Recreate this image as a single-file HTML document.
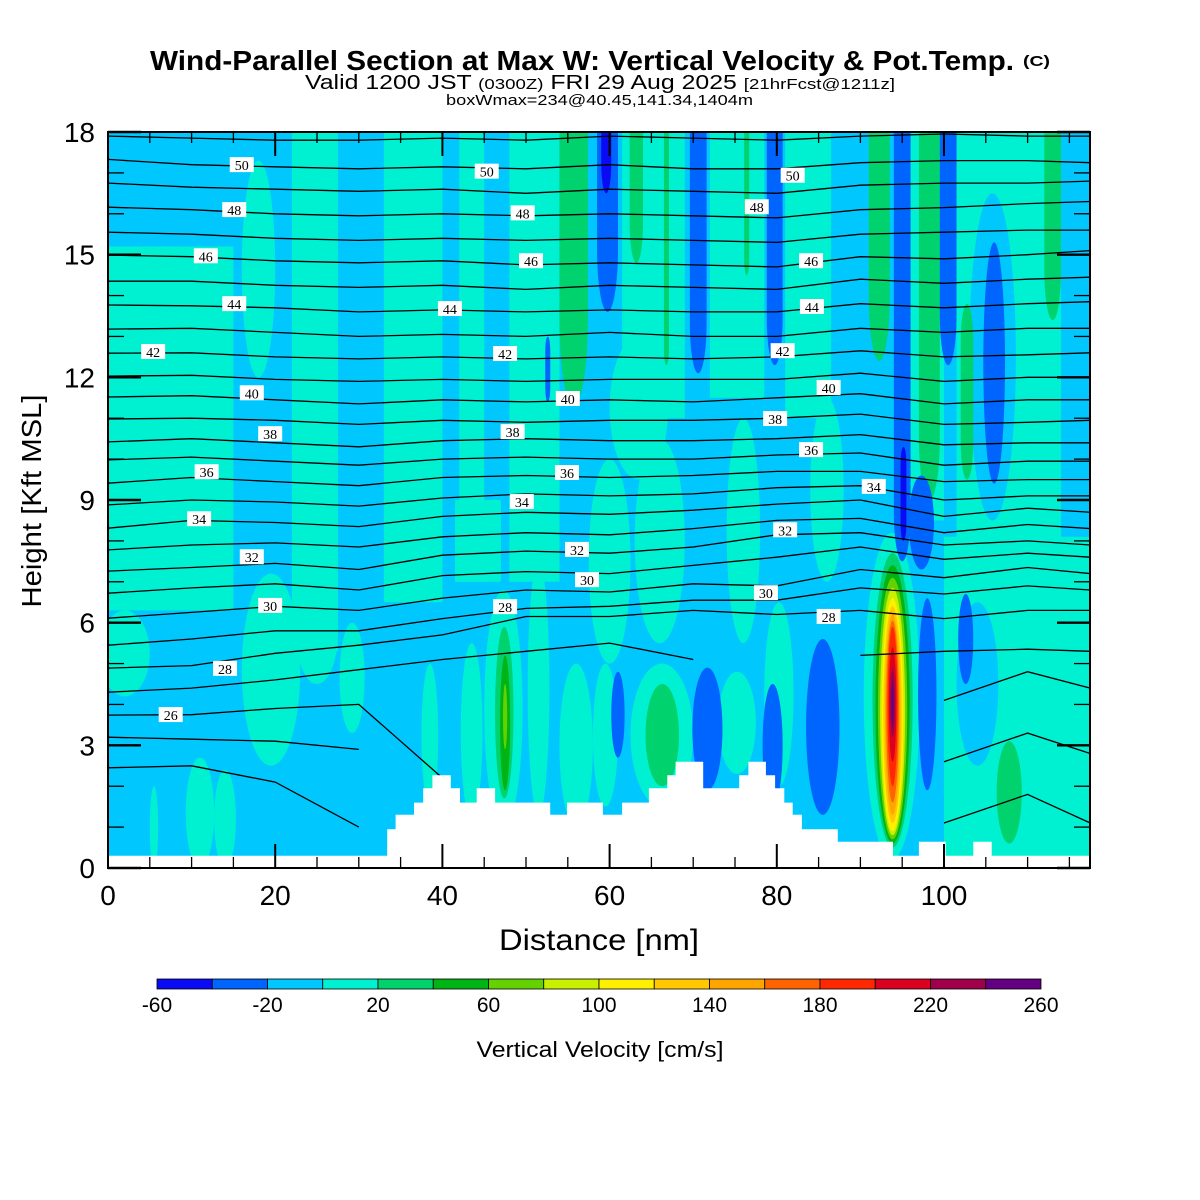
<!DOCTYPE html>
<html><head><meta charset="utf-8"><title>Wind-Parallel Section</title>
<style>html,body{margin:0;padding:0;background:#fff;}svg{display:block;font-family:"Liberation Sans",sans-serif;}</style>
</head><body>
<svg id="chart" xmlns="http://www.w3.org/2000/svg" width="1200" height="1200" viewBox="0 0 1200 1200">
<rect x="0" y="0" width="1200" height="1200" fill="#fff"/>
<g>
<text x="150" y="70" font-size="28" font-weight="bold" textLength="864" lengthAdjust="spacingAndGlyphs">Wind-Parallel Section at Max W: Vertical Velocity &amp; Pot.Temp.</text>
<text x="1023" y="66" font-size="15" font-weight="bold" textLength="27" lengthAdjust="spacingAndGlyphs">(C)</text>
<text x="305" y="89" font-size="20" textLength="590" lengthAdjust="spacingAndGlyphs">Valid 1200 JST <tspan font-size="15">(0300Z)</tspan> FRI 29 Aug 2025 <tspan font-size="15">[21hrFcst@1211z]</tspan></text>
<text x="446" y="105" font-size="15" textLength="307" lengthAdjust="spacingAndGlyphs">boxWmax=234@40.45,141.34,1404m</text>
</g>
<defs><clipPath id="plotClip"><rect x="108" y="132" width="982" height="736"/></clipPath></defs>
<g id="plot" clip-path="url(#plotClip)">
<rect x="108" y="132" width="982" height="736" fill="#00c8ff"/>
<g id="field"></g>
<g id="contours"></g>
<path id="terrain" fill="#fff" stroke="none"/>
<g id="clabels"></g>
</g>
<rect x="108" y="132" width="982" height="736" fill="none" stroke="#000" stroke-width="2"/>
<g id="axes"></g>
<text transform="translate(41,501) rotate(-90)" text-anchor="middle" font-size="28" textLength="213" lengthAdjust="spacingAndGlyphs">Height [Kft MSL]</text>
<text x="599" y="950" text-anchor="middle" font-size="30" textLength="200" lengthAdjust="spacingAndGlyphs">Distance [nm]</text>
<g id="colorbar"></g>
<text x="600" y="1057" text-anchor="middle" font-size="22" textLength="247" lengthAdjust="spacingAndGlyphs">Vertical Velocity [cm/s]</text>
</svg>
<script>
// ---- colour scale ----
const cbEdges = [-60,-40,-20,0,20,40,60,80,100,120,140,160,180,200,220,240,260];
const cbColors = ["#0a0af5","#0064ff","#00c8ff","#00f0d2","#00d26e","#00b414","#64d200","#c8f000","#fff000","#ffc800","#ffa500","#ff6400","#ff2800","#dc0020","#a0004b","#640082"];
const cbTickLabels = [-60,-20,20,60,100,140,180,220,260];
// ---- vertical velocity field features (nm, kft, cm/s); kind 0 ellipse,1 capsule,2 rect ----
const fX0 = [0,22,33,42,48,41.5,61.5,72,81,96,101.5,100,108,16,-1,9.3,12.7,5,16,22.5,27.7,37.5,42.2,45,50.2,54,58,57.5,63,60,73,74,78.5,84,90.4,62.5,101.5,103,54,62.4,66.5,76.1,91,97,102,112,64.3,106.3,58.5,69.6,78.8,94,95.8,99.5,104.7,52.3,60.2,69.9,78.3,83.5,96.9,101.7,59,94.8,46.3,46.9,47.25,91.45,91.8,92.1,92.35,92.55,92.75,92.95,93.1,93.25,93.4,93.55,93.7];
const fX1 = [15,27.5,40,45,54,47,69,78.5,86.5,100,114,117.5,114,20,5,12.7,15.3,6,23,27.5,30.7,39.5,44.8,49.6,52.8,58,61,62.5,69,67,77.5,78,82,88,97.1,70,106.5,108.6,57.4,64,67.1,76.7,93.5,99.5,103.5,114,68.3,109.3,61,71.6,80.7,96,98.8,101.5,107.3,52.9,61.8,73.5,80.7,87.5,99.1,103.5,60.2,95.5,48.5,48.1,47.75,96.25,95.9,95.6,95.35,95.15,94.95,94.75,94.6,94.45,94.3,94.15,94.0];
const fY0 = [6.3,5.3,6.5,7,7,7,11,11.5,11,8.5,8,0,6.5,12,4.2,0,0,0,2.5,4.5,3.3,1.5,1.2,1,1.3,1,1.5,5,5.5,9.5,2.3,5.5,2,7,0.2,1.5,2.5,8.5,11.3,14.8,12.3,14.5,12.4,9,9.5,13.4,2,0.6,13.6,12.1,12.3,7.5,7.3,12.3,9.4,11.4,2.7,1.9,1.5,1.3,1.9,4.5,16.5,8,1.7,1.9,2.9,0.5,0.6,0.7,0.8,0.9,1.1,1.3,1.6,2.0,2.6,3.2,3.45];
const fY1 = [15.2,18.5,18.5,18.5,18.5,9,18.5,18.5,18.5,18.5,18.5,8.1,8.5,17.3,6.3,2.7,2.4,2,7.2,7,6,5,5.5,6.8,7.5,5,5,10,10.5,13,4.8,11,6.5,11.5,8.2,5,6.5,16.5,20,20,19,19,20,20,13.8,20,4.5,3.1,20,20,20,20,9.6,20,15.3,13,4.8,4.9,4.5,5.6,6.6,6.7,20,10.3,5.9,5.2,4.5,7.7,7.4,7.1,6.85,6.6,6.4,6.2,6.05,5.9,5.4,4.9,4.6];
const fVal = [10,10,10,10,10,10,10,10,10,10,10,10,10,10,10,10,10,10,10,10,10,10,10,10,10,10,10,10,10,10,10,10,10,10,10,10,-10,-10,30,30,30,30,30,30,30,30,30,30,-30,-30,-30,-30,-30,-30,-30,-30,-30,-30,-30,-30,-30,-30,-50,-50,30,50,70,30,50,70,90,110,130,150,170,190,210,230,250];
const fKind = [2,2,2,2,2,2,2,2,2,2,2,2,2,0,0,0,0,0,0,0,0,0,0,0,0,0,0,0,0,0,0,0,0,0,0,0,0,0,1,1,1,1,1,1,1,1,0,0,1,1,1,1,0,1,0,1,0,0,0,0,0,0,1,1,0,0,0,0,0,0,0,0,0,0,0,0,0,0,0];
// ---- terrain steps (nm start, kft) ----
const terrainX = [0,33.4,34.4,36.6,37.7,38.8,41.0,42.1,44.1,46.3,52.9,54.9,59.2,61.5,64.7,66.9,67.9,71.2,75.5,76.6,78.7,79.8,80.9,81.9,83.0,87.3,93.9,97.0,100.2,103.5,105.7];
const terrainH = [0.3,0.95,1.3,1.6,1.95,2.27,1.95,1.6,1.95,1.6,1.3,1.6,1.3,1.6,1.95,2.27,2.6,1.95,2.27,2.6,2.27,1.95,1.6,1.3,0.95,0.64,0.3,0.64,0.3,0.64,0.3];
// ---- potential temperature contours ----
const contourX = [0,10,20,30,40,50,60,70,80,90,100,110,117.5];
const contourLevels = [51,50,49,48,47,46,45,44,43,42,41,40,39,38,37,36,35,34,33,32,31,30,29,28,27,26,25,24];
const contourH = [
[17.9,17.85,17.8,17.8,17.85,17.8,17.9,17.85,17.8,17.9,17.95,17.9,17.9],
[17.33,17.2,17.15,17.1,17.15,17.1,17.2,17.1,17.1,17.25,17.3,17.3,17.25],
[16.75,16.65,16.6,16.55,16.6,16.5,16.6,16.55,16.5,16.7,16.75,16.75,16.8],
[16.16,16.1,16.0,15.95,16.0,15.95,16.0,15.95,15.9,16.1,16.15,16.25,16.3],
[15.55,15.5,15.4,15.35,15.4,15.35,15.4,15.35,15.3,15.5,15.55,15.6,15.6],
[14.99,14.95,14.85,14.8,14.85,14.75,14.8,14.75,14.7,14.95,14.9,15.0,15.1],
[14.35,14.35,14.25,14.2,14.25,14.15,14.25,14.2,14.15,14.4,14.3,14.4,14.45],
[13.77,13.75,13.7,13.6,13.65,13.6,13.65,13.6,13.6,13.8,13.7,13.8,13.85],
[13.18,13.2,13.1,13.0,13.05,13.0,13.1,13.0,13.0,13.2,13.1,13.2,13.2],
[12.59,12.6,12.5,12.45,12.5,12.45,12.5,12.45,12.5,12.65,12.5,12.55,12.6],
[12.03,12.05,11.95,11.9,11.95,11.9,11.95,11.95,11.95,12.1,11.9,12.0,12.0],
[11.52,11.55,11.45,11.35,11.45,11.4,11.45,11.4,11.5,11.6,11.35,11.45,11.45],
[10.98,11.0,10.95,10.85,10.95,10.9,10.95,10.95,11.0,11.1,10.85,10.9,10.95],
[10.42,10.5,10.4,10.3,10.45,10.5,10.45,10.45,10.5,10.6,10.35,10.4,10.4],
[9.98,10.05,9.95,9.85,10.0,10.05,10.0,10.0,10.1,10.15,9.85,9.95,9.95],
[9.41,9.55,9.45,9.35,9.55,9.6,9.55,9.6,9.7,9.7,9.45,9.5,9.5],
[8.88,9.0,8.95,8.85,9.05,9.15,9.1,9.15,9.3,9.35,9.0,9.1,9.1],
[8.31,8.5,8.45,8.35,8.6,8.7,8.65,8.75,8.9,9.0,8.6,8.8,8.7],
[7.78,7.9,7.95,7.85,8.1,8.2,8.15,8.3,8.5,8.55,8.2,8.4,8.3],
[7.26,7.35,7.45,7.3,7.65,7.75,7.7,7.85,8.15,8.2,7.9,8.0,7.9],
[6.72,6.85,6.95,6.8,7.15,7.25,7.2,7.4,7.6,7.85,7.55,7.7,7.6],
[6.11,6.25,6.4,6.3,6.6,6.8,6.75,6.95,6.9,7.3,7.1,7.35,7.2],
[5.45,5.6,5.8,5.8,6.1,6.35,6.4,6.55,6.55,6.85,6.7,6.9,6.8],
[4.89,4.95,5.25,5.45,5.7,6.15,6.15,6.3,6.2,6.3,6.1,6.3,6.3],
[4.3,4.4,4.6,4.85,5.1,5.3,5.5,5.1,null,5.2,5.3,5.35,5.3],
[3.74,3.75,3.9,4.0,2.2,null,null,null,null,null,4.1,4.8,4.4],
[3.2,3.15,3.1,2.9,null,null,null,null,null,null,2.6,3.3,2.8],
[2.45,2.5,2.1,1.0,null,null,null,null,null,null,1.1,1.8,1.1]
];
// ---- contour labels (nm, kft, K) ----
const labelX = [16.0,45.3,81.9,15.1,49.6,77.6,11.7,50.6,84.1,15.1,40.9,84.2,5.4,47.5,80.7,17.2,55.0,86.2,19.4,48.4,79.8,11.8,54.9,84.1,10.9,49.5,91.6,17.2,56.1,81.0,19.4,57.3,78.7,14.0,47.5,86.2,7.5];
const labelH = [17.19,17.03,16.93,16.09,16.01,16.16,14.96,14.84,14.84,13.79,13.67,13.72,12.62,12.57,12.64,11.61,11.47,11.74,10.61,10.66,10.98,9.68,9.66,10.22,8.53,8.95,9.32,7.60,7.78,8.26,6.41,7.04,6.72,4.87,6.38,6.14,3.74];
const labelV = [50,50,50,48,48,48,46,46,46,44,44,44,42,42,42,40,40,40,38,38,38,36,36,36,34,34,34,32,32,32,30,30,30,28,28,28,26];
// ---- axis ticks ----
const xTickLabels = [0,20,40,60,80,100];
const yTickLabels = [0,3,6,9,12,15,18];

const NS = "http://www.w3.org/2000/svg";
const sx = x => 108 + x * 8.36;
const sy = h => 868 - h * 40.889;
function colorFor(v){ let i = Math.floor((v - cbEdges[0]) / 20); i = Math.max(0, Math.min(cbColors.length-1, i)); return cbColors[i]; }
function mk(tag, attrs, parent){ const e = document.createElementNS(NS, tag); for (const k in attrs) e.setAttribute(k, attrs[k]); parent.appendChild(e); return e; }

// field
const field = document.getElementById('field');
for (let i = 0; i < fVal.length; i++) {
  const x0 = sx(fX0[i]), x1 = sx(fX1[i]), y0 = sy(fY1[i]), y1 = sy(fY0[i]);
  const w = x1 - x0, h = y1 - y0, col = colorFor(fVal[i]);
  let el;
  if (fKind[i] === 0) {
    el = mk('ellipse', {cx:(x0+x1)/2, cy:(y0+y1)/2, rx:w/2, ry:h/2, fill:col}, field);
  } else if (fKind[i] === 1) {
    el = mk('rect', {x:x0, y:y0, width:w, height:h, rx:w/2, ry:Math.min(h/2, w*3), fill:col}, field);
  } else {
    el = mk('rect', {x:x0, y:y0, width:w, height:h, fill:col}, field);
  }
  
  
}

// contours
const cg = document.getElementById('contours');
for (let L = 0; L < contourLevels.length; L++) {
  let d = '', pen = false;
  for (let j = 0; j < contourX.length; j++) {
    const h = contourH[L][j];
    if (h === null) { pen = false; continue; }
    d += (pen ? 'L' : 'M') + sx(contourX[j]).toFixed(1) + ' ' + sy(h).toFixed(1) + ' ';
    pen = true;
  }
  const p = mk('path', {d:d, fill:'none', stroke:'#000', 'stroke-width':1.3}, cg);
  
  
}

// terrain
let td = 'M' + sx(0) + ' ' + sy(-1);
for (let i = 0; i < terrainX.length; i++) {
  const xe = i + 1 < terrainX.length ? terrainX[i+1] : 120;
  td += ' L' + sx(terrainX[i]).toFixed(1) + ' ' + sy(terrainH[i]).toFixed(1) + ' L' + sx(xe).toFixed(1) + ' ' + sy(terrainH[i]).toFixed(1);
}
td += ' L' + sx(120) + ' ' + sy(-1) + ' Z';
document.getElementById('terrain').setAttribute('d', td);

// contour labels
const lg = document.getElementById('clabels');
for (let i = 0; i < labelV.length; i++) {
  const cx = sx(labelX[i]), cy = sy(labelH[i]);
  const r = mk('rect', {x:cx-12, y:cy-8, width:24, height:15, fill:'#fff'}, lg);
  
  
  const t = mk('text', {x:cx, y:cy+5, 'text-anchor':'middle', 'font-size':14, 'font-family':'"Liberation Serif", serif'}, lg);
  t.textContent = labelV[i];
  
  
}

// axes ticks and labels
const ax = document.getElementById('axes');
for (let x = 0; x <= 117; x += 5) {
  const major = x % 20 === 0, len = major ? 24 : 11;
  const b = mk('line', {x1:sx(x), x2:sx(x), y1:868, y2:868-len, stroke:'#000', 'stroke-width':major?2:1.3}, ax);
  
  
  const t = mk('line', {x1:sx(x), x2:sx(x), y1:132, y2:132+len, stroke:'#000', 'stroke-width':major?2:1.3}, ax);
  
  
}
for (let h = 0; h <= 18; h += 1) {
  const major = h % 3 === 0, len = major ? 33 : 16;
  const l = mk('line', {x1:108, x2:108+len, y1:sy(h), y2:sy(h), stroke:'#000', 'stroke-width':major?2.4:1.3}, ax);
  
  
  const r = mk('line', {x1:1090, x2:1090-len, y1:sy(h), y2:sy(h), stroke:'#000', 'stroke-width':major?2.4:1.3}, ax);
  
  
}
xTickLabels.forEach(v => {
  const t = mk('text', {x:sx(v), y:905, 'text-anchor':'middle', 'font-size':28}, ax);
  t.textContent = v;
  
  
});
yTickLabels.forEach(v => {
  const t = mk('text', {x:95, y:sy(v)+10, 'text-anchor':'end', 'font-size':28}, ax);
  t.textContent = v;
  
  
});

// colorbar
const cb = document.getElementById('colorbar');
const cbX0 = 157, cbX1 = 1041, cbW = (cbX1 - cbX0) / cbColors.length;
const cbPos = v => cbX0 + (v - cbEdges[0]) / 20 * cbW;
for (let i = 0; i < cbColors.length; i++) {
  const r = mk('rect', {x:cbPos(cbEdges[i]), y:979, width:cbW, height:10, fill:cbColors[i], stroke:'#000', 'stroke-width':0.8}, cb);
  
  
}
cbTickLabels.forEach(v => {
  const t = mk('text', {x:cbPos(v), y:1012, 'text-anchor':'middle', 'font-size':21}, cb);
  t.textContent = v;
  
  
});
</script>
</body></html>
